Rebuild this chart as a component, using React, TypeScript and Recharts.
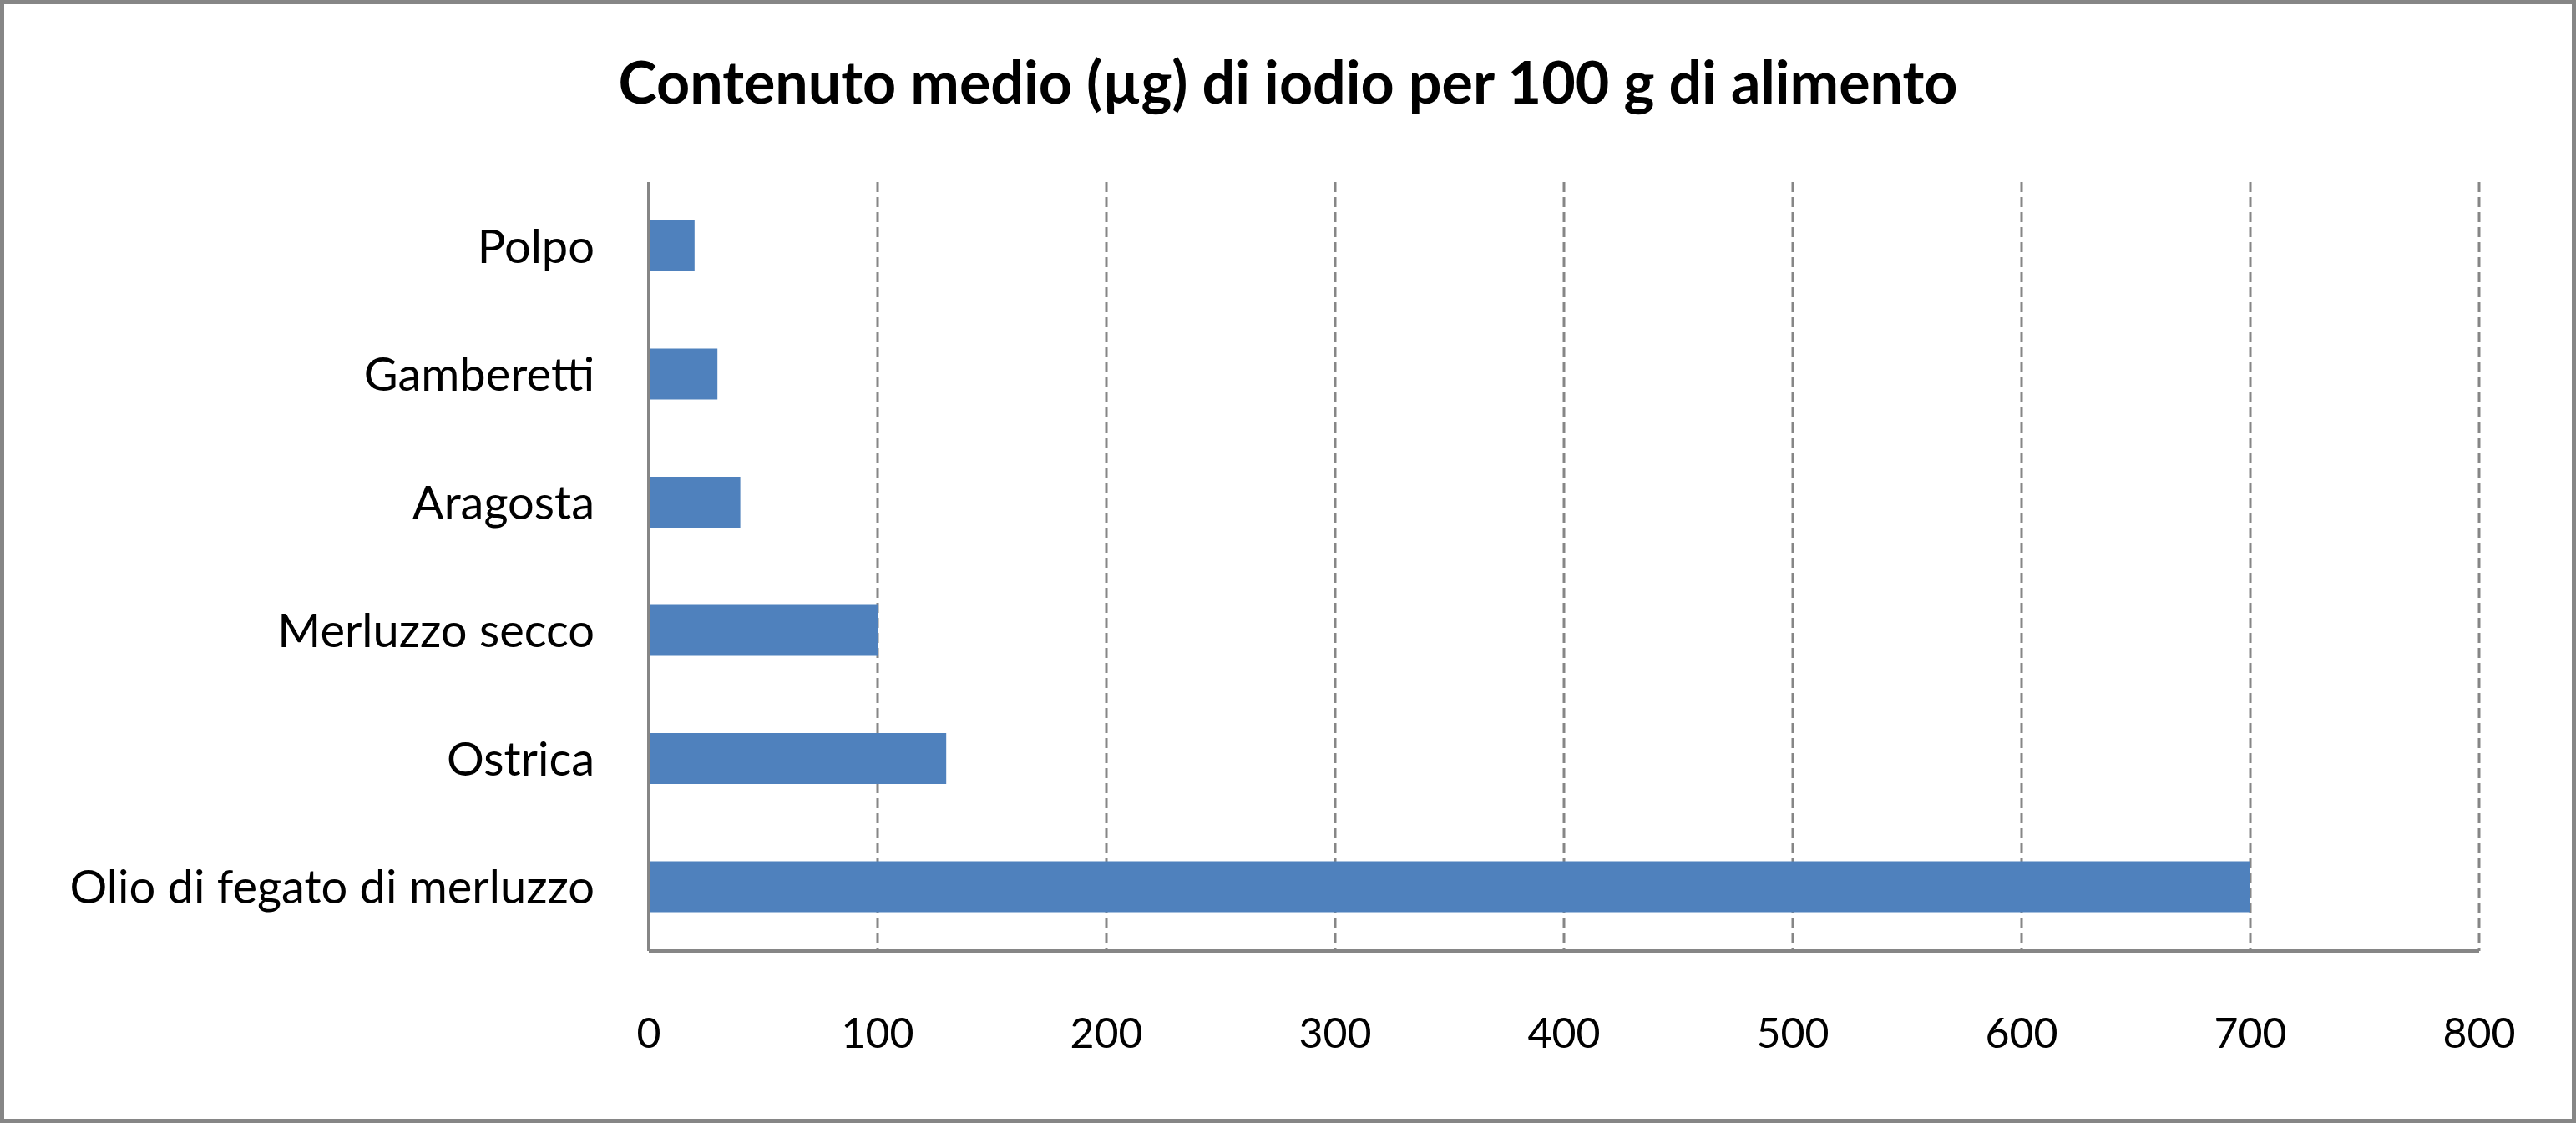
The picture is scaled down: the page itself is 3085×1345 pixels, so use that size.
import { BarChart, Bar, XAxis, YAxis, CartesianGrid } from "recharts";

const foods = [
  "Polpo",
  "Gamberetti",
  "Aragosta",
  "Merluzzo secco",
  "Ostrica",
  "Olio di fegato di merluzzo",
];
const iodine = [20, 30, 40, 100, 130, 700];
const xTicks = [0, 100, 200, 300, 400, 500, 600, 700, 800];

const data = foods.map((name, i) => ({ name, value: iodine[i] }));

const FONT = "Lato, 'Open Sans', sans-serif";
const GRAY = "#868686";

export default function App() {
  return (
    <div
      style={{
        position: "absolute",
        left: 0,
        top: 0,
        width: 3085,
        height: 1345,
        background: "#fff",
        boxSizing: "border-box",
        border: `5px solid ${GRAY}`,
        fontFamily: FONT,
      }}
    >
      <div
        style={{
          position: "absolute",
          left: 0,
          right: 0,
          top: 50,
          textAlign: "center",
          fontWeight: 700,
          fontSize: 70,
          lineHeight: "84px",
          color: "#000",
        }}
      >
        Contenuto medio (µg) di iodio per 100 g di alimento
      </div>
      <div style={{ position: "absolute", left: -5, top: -5 }}>
        <BarChart
          width={3085}
          height={1345}
          data={data}
          layout="vertical"
          margin={{ top: 218, right: 116, bottom: 86, left: 0 }}
          barCategoryGap="30%"
        >
          <CartesianGrid
            horizontal={false}
            stroke={GRAY}
            strokeWidth={3}
            strokeDasharray="12 6"
          />
          <XAxis
            type="number"
            domain={[0, 800]}
            ticks={xTicks}
            interval={0}
            height={120}
            axisLine={{ stroke: GRAY, strokeWidth: 4 }}
            tickLine={false}
            tickSize={0}
            tickMargin={80}
            tick={{ fill: "#000", fontSize: 50, fontFamily: FONT }}
          />
          <YAxis
            type="category"
            dataKey="name"
            width={777}
            axisLine={{ stroke: GRAY, strokeWidth: 4 }}
            tickLine={false}
            tickSize={0}
            tickMargin={65}
            interval={0}
            tick={{ fill: "#000", fontSize: 56, fontFamily: FONT }}
          />
          <Bar dataKey="value" fill="#4F81BD" isAnimationActive={false} />
        </BarChart>
      </div>
    </div>
  );
}
